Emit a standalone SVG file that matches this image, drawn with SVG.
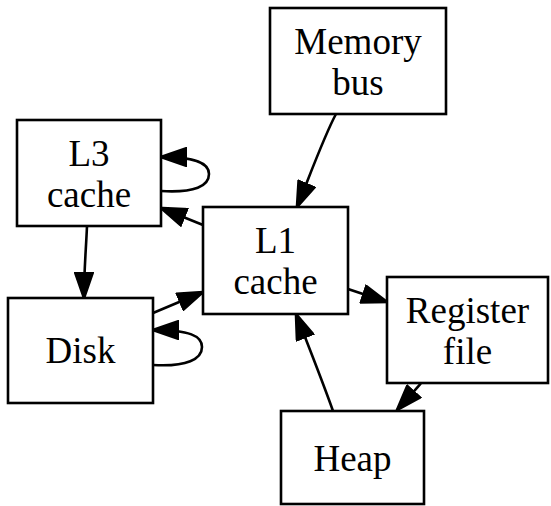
<svg xmlns="http://www.w3.org/2000/svg" width="551" height="506" viewBox="0 0 551 506">
  <style>
    .box { fill: #ffffff; stroke: #000000; stroke-width: 2.6; }
    .lbl { font-family: "Liberation Serif", "Times New Roman", serif; font-size: 37px; text-anchor: middle; fill: #000000; }
    .edge { fill: none; stroke: #000000; stroke-width: 2.6; marker-end: url(#head); }
  </style>
  <defs>
    <marker id="head" viewBox="0 0 28 20" refX="26" refY="10" markerWidth="28" markerHeight="20" markerUnits="userSpaceOnUse" orient="auto">
      <path d="M1,1 L27,10 L1,19 Z" fill="#000000" stroke="#000000" stroke-width="2"/>
    </marker>
  </defs>
  <rect width="551" height="506" fill="#ffffff"/>

  <g id="edges">
    <!-- Memory bus -> L1 cache -->
    <path class="edge" d="M336,114 C324,136 307,183 297,207"/>
    <!-- L1 cache -> L3 cache -->
    <path class="edge" d="M203,225 L161,208"/>
    <!-- L3 cache self loop -->
    <path class="edge" d="M161,191 C195,193 209,186 209,174 C209,163 196,157 161,157"/>
    <!-- L3 cache -> Disk -->
    <path class="edge" d="M87,226 C86,250 84,270 84,298"/>
    <!-- Disk -> L1 cache -->
    <path class="edge" d="M153,313 L203,292"/>
    <!-- Disk self loop -->
    <path class="edge" d="M153,365 C187,367 202,359 202,347 C202,336 190,330 153,330"/>
    <!-- L1 cache -> Register file -->
    <path class="edge" d="M348,289 L387,302"/>
    <!-- Heap -> L1 cache -->
    <path class="edge" d="M333,411 C322,380 310,350 296,314"/>
    <!-- Register file -> Heap -->
    <path class="edge" d="M421,383 C419,386 416,389 397,410"/>
  </g>

  <g id="memory-bus">
    <rect class="box" x="270" y="8" width="176" height="106"/>
    <text class="lbl" x="358" y="54">Memory</text>
    <text class="lbl" x="358" y="95">bus</text>
  </g>
  <g id="l3-cache">
    <rect class="box" x="17" y="120" width="144" height="106"/>
    <text class="lbl" x="89" y="166">L3</text>
    <text class="lbl" x="89" y="207">cache</text>
  </g>
  <g id="l1-cache">
    <rect class="box" x="203" y="207" width="145" height="107"/>
    <text class="lbl" x="275.5" y="253">L1</text>
    <text class="lbl" x="275.5" y="294">cache</text>
  </g>
  <g id="disk">
    <rect class="box" x="8" y="298" width="145" height="105"/>
    <text class="lbl" x="80.5" y="363">Disk</text>
  </g>
  <g id="register-file">
    <rect class="box" x="387" y="277" width="161" height="106"/>
    <text class="lbl" x="467.5" y="323">Register</text>
    <text class="lbl" x="467.5" y="364">file</text>
  </g>
  <g id="heap">
    <rect class="box" x="281" y="411" width="143" height="93"/>
    <text class="lbl" x="352.5" y="471">Heap</text>
  </g>
</svg>
